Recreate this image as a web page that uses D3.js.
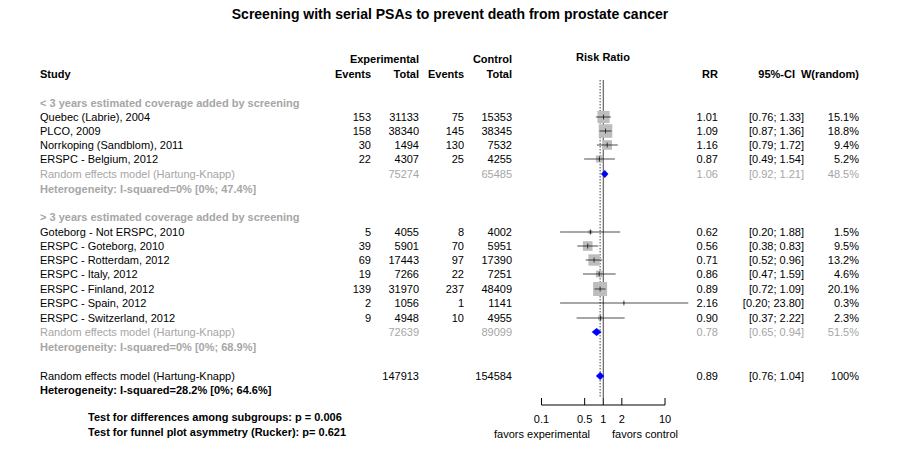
<!DOCTYPE html>
<html><head><meta charset="utf-8">
<script src="https://cdn.jsdelivr.net/npm/d3@7"></script>
<style>body{margin:0;background:#fff}text{font-family:"Liberation Sans",Arial,sans-serif;font-size:11px}</style>
</head><body><div id="chart"></div>
<script>
var W = 900, H = 450;
// studies: name, exp events, exp total, ctrl events, ctrl total, rr, lo, hi, weight
var studyNames = ["Quebec (Labrie), 2004", "PLCO, 2009", "Norrkoping (Sandblom), 2011", "ERSPC - Belgium, 2012",
  "Goteborg - Not ERSPC, 2010", "ERSPC - Goteborg, 2010", "ERSPC - Rotterdam, 2012", "ERSPC - Italy, 2012",
  "ERSPC - Finland, 2012", "ERSPC - Spain, 2012", "ERSPC - Switzerland, 2012"];
var expEvents = [153, 158, 30, 22, 5, 39, 69, 19, 139, 2, 9];
var expTotal = [31133, 38340, 1494, 4307, 4055, 5901, 17443, 7266, 31970, 1056, 4948];
var ctrlEvents = [75, 145, 130, 25, 8, 70, 97, 22, 237, 1, 10];
var ctrlTotal = [15353, 38345, 7532, 4255, 4002, 5951, 17390, 7251, 48409, 1141, 4955];
var rr = [1.01, 1.09, 1.16, 0.87, 0.62, 0.56, 0.71, 0.86, 0.89, 2.16, 0.90];
var lo = [0.76, 0.87, 0.79, 0.49, 0.20, 0.38, 0.52, 0.47, 0.72, 0.20, 0.37];
var hi = [1.33, 1.36, 1.72, 1.54, 1.88, 0.83, 0.96, 1.59, 1.09, 23.80, 2.22];
var weight = [15.1, 18.8, 9.4, 5.2, 1.5, 9.5, 13.2, 4.6, 20.1, 0.3, 2.3];
var pooledLabels = ["Random effects model  (Hartung-Knapp)", "Random effects model  (Hartung-Knapp)", "Random effects model  (Hartung-Knapp)"];
var pooledExpTotal = [75274, 72639, 147913];
var pooledCtrlTotal = [65485, 89099, 154584];
var pooledRR = [1.06, 0.78, 0.89];
var pooledLo = [0.92, 0.65, 0.76];
var pooledHi = [1.21, 0.94, 1.04];
var pooledW = ["48.5%", "51.5%", "100%"];
var hetText = ["Heterogeneity: I-squared=0% [0%; 47.4%]", "Heterogeneity: I-squared=0% [0%; 68.9%]", "Heterogeneity: I-squared=28.2% [0%; 64.6%]"];
var groupTitles = ["< 3 years estimated coverage added by screening", "> 3 years estimated coverage added by screening"];
var axisTicks = [0.1, 0.5, 1, 2, 10];

var svg = d3.select("#chart").append("svg").attr("width", W).attr("height", H);
var x = d3.scaleLog().domain([0.1, 10]).range([541.5, 665]);
var grey = "#a6a6a6";

// row layout
var rowY = {g1: 103, s: [117, 131, 145, 159, 232, 246, 260, 274, 289, 303, 318], p: [174, 332, 376], h: [189, 347, 390], g2: 217};

function txt(t, xx, y, anchor, opt) {
  opt = opt || {};
  return svg.append("text").attr("x", xx).attr("y", y).attr("dy", "0.35em")
    .attr("text-anchor", anchor).attr("fill", opt.fill || "#000")
    .attr("font-weight", opt.bold ? "bold" : null).text(t);
}

svg.append("text").attr("x", 450).attr("y", 19).attr("text-anchor", "middle")
  .attr("font-weight", "bold").style("font-size", "14px").text("Screening with serial PSAs to prevent death from prostate cancer");

// headers
txt("Study", 40, 74, "start", {bold: 1});
txt("Experimental", 419, 59, "end", {bold: 1});
txt("Events", 371, 74, "end", {bold: 1});
txt("Total", 419, 74, "end", {bold: 1});
txt("Control", 512, 59, "end", {bold: 1});
txt("Events", 464, 74, "end", {bold: 1});
txt("Total", 512, 74, "end", {bold: 1});
txt("Risk Ratio", 603, 57, "middle", {bold: 1});
txt("RR", 718, 74, "end", {bold: 1});
txt("95%-CI", 795, 74, "end", {bold: 1});
txt("W(random)", 859, 74, "end", {bold: 1});

txt(groupTitles[0], 40, rowY.g1, "start", {bold: 1, fill: grey});
txt(groupTitles[1], 40, rowY.g2, "start", {bold: 1, fill: grey});

// reference lines
svg.append("line").attr("x1", x(1)).attr("x2", x(1)).attr("y1", 80).attr("y2", 398).attr("stroke", "#444");
svg.append("line").attr("x1", x(0.89)).attr("x2", x(0.89)).attr("y1", 80).attr("y2", 398)
  .attr("stroke", "#444").attr("stroke-dasharray", "1.5,1.5");

var f2 = d3.format(".2f");
function ci(l, h) { return "[" + f2(l) + "; " + f2(h) + "]"; }

studyNames.forEach(function(n, i) {
  var y = rowY.s[i];
  txt(n, 40, y, "start");
  txt(expEvents[i], 371, y, "end");
  txt(expTotal[i], 419, y, "end");
  txt(ctrlEvents[i], 464, y, "end");
  txt(ctrlTotal[i], 512, y, "end");
  txt(f2(rr[i]), 718, y, "end");
  txt(ci(lo[i], hi[i]), 804, y, "end");
  txt(weight[i].toFixed(1) + "%", 859, y, "end");
  var s = 14 * Math.sqrt(weight[i] / 20.1);
  svg.append("rect").attr("x", x(rr[i]) - s / 2).attr("y", y - s / 2).attr("width", s).attr("height", s).attr("fill", "#bdbdbd");
  svg.append("line").attr("x1", x(lo[i])).attr("x2", x(hi[i])).attr("y1", y).attr("y2", y).attr("stroke", "#000").attr("stroke-width", 0.7);
  svg.append("line").attr("x1", x(rr[i])).attr("x2", x(rr[i])).attr("y1", y - 2.5).attr("y2", y + 2.5).attr("stroke", "#000").attr("stroke-width", 0.7);
});

pooledLabels.forEach(function(n, i) {
  var y = rowY.p[i], c = i < 2 ? grey : "#000";
  txt(n, 40, y, "start", {fill: c});
  txt(pooledExpTotal[i], 419, y, "end", {fill: c});
  txt(pooledCtrlTotal[i], 512, y, "end", {fill: c});
  txt(f2(pooledRR[i]), 718, y, "end", {fill: c});
  txt(ci(pooledLo[i], pooledHi[i]), 804, y, "end", {fill: c});
  txt(pooledW[i], 859, y, "end", {fill: c});
  txt(hetText[i], 40, rowY.h[i], "start", {bold: 1, fill: c});
  var pts = [[x(pooledLo[i]), y], [x(pooledRR[i]), y - 4], [x(pooledHi[i]), y], [x(pooledRR[i]), y + 4]];
  svg.append("polygon").attr("points", pts.join(" ")).attr("fill", "#0000ff");
});

// axis
var axisY = 405;
svg.append("line").attr("x1", x(0.1)).attr("x2", x(10)).attr("y1", axisY).attr("y2", axisY).attr("stroke", "#000");
axisTicks.forEach(function(t) {
  svg.append("line").attr("x1", x(t)).attr("x2", x(t)).attr("y1", axisY).attr("y2", axisY - 7).attr("stroke", "#000");
  txt(t, x(t), 419, "middle");
});
txt("favors experimental", 542, 434, "middle");
txt("favors control", 645, 434, "middle");

txt("Test for differences among subgroups: p = 0.006", 88, 417, "start", {bold: 1});
txt("Test for funnel plot asymmetry (Rucker): p= 0.621", 88, 432, "start", {bold: 1});
</script></body></html>
